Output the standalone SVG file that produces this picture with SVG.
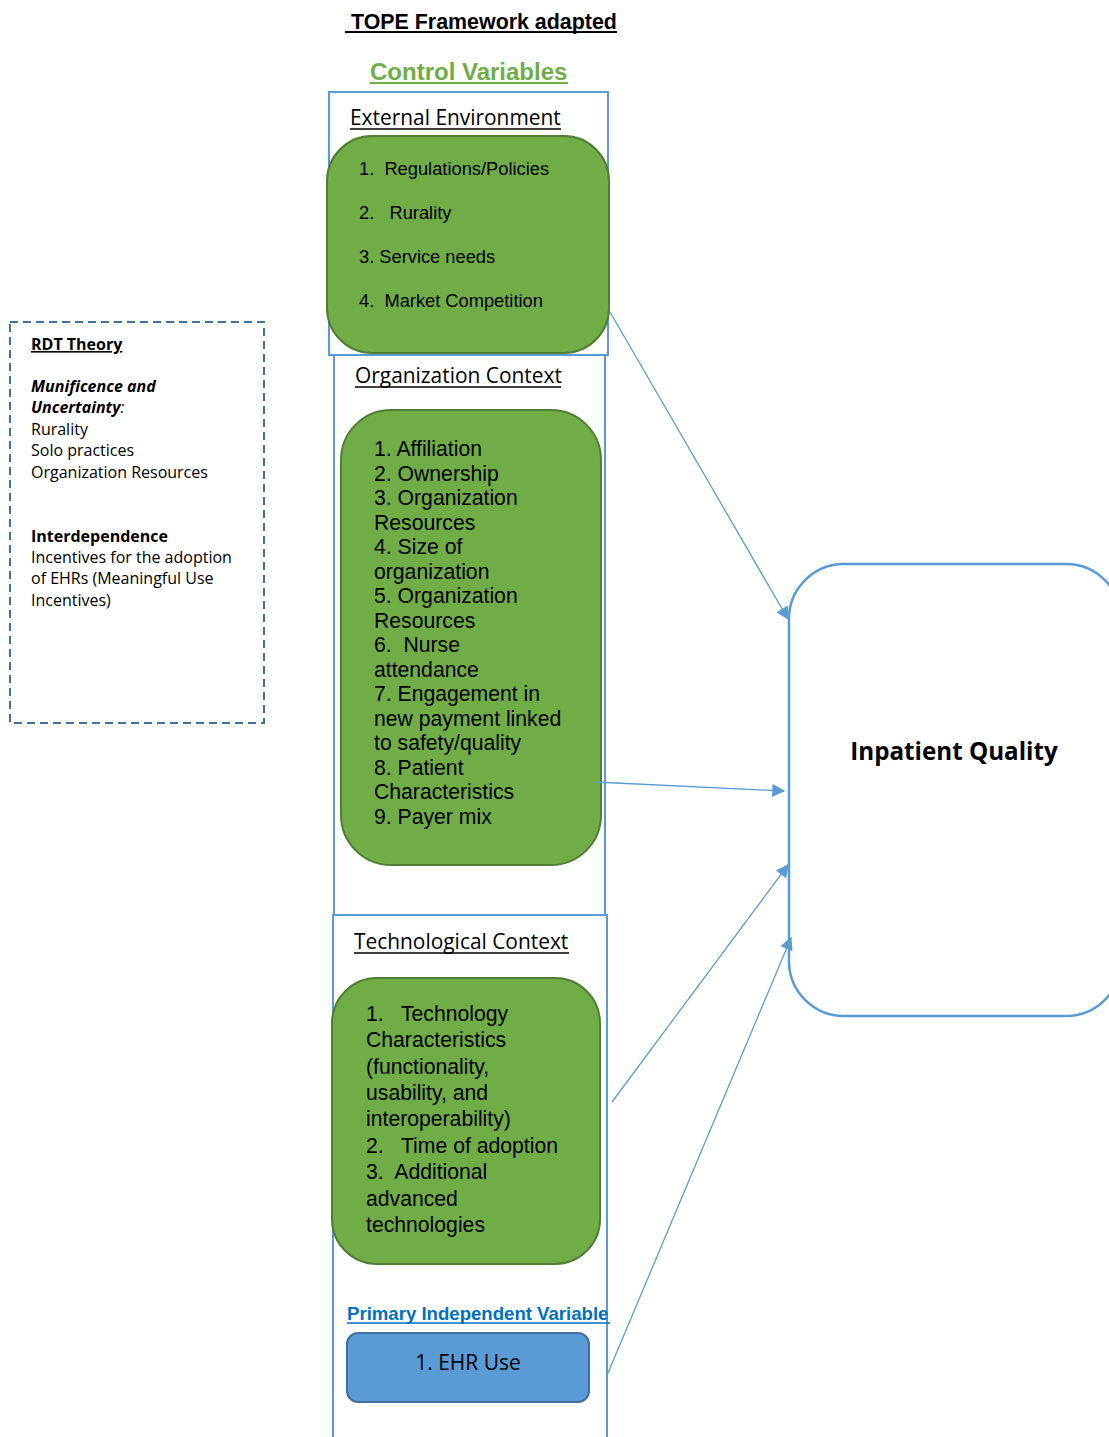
<svg xmlns="http://www.w3.org/2000/svg" width="1109" height="1437" viewBox="0 0 1109 1437">
<defs>
<style>
.frame{fill:#fff;stroke:#5B9BD5;stroke-width:2}
.green{fill:#70AD47;stroke:#507E32;stroke-width:2}
.ar{font-family:"Liberation Sans",Arial,sans-serif;fill:#000}
.cal{font-family:"Open Sans","Noto Sans",sans-serif;fill:#000}
.conn{stroke:#5B9BD5;stroke-width:1.3;fill:none;marker-end:url(#ah)}
</style>
<marker id="ah" viewBox="0 0 10 10" refX="9" refY="5" markerWidth="15" markerHeight="13" markerUnits="userSpaceOnUse" orient="auto">
<path d="M0,0 L10,5 L0,10 z" fill="#5B9BD5"/>
</marker>
</defs>
<rect width="1109" height="1437" fill="#fff"/>

<g id="title">
<text class="ar" x="351" y="29" font-size="21.4" font-weight="bold">TOPE Framework adapted</text>
<line x1="345" y1="32" x2="617" y2="32" stroke="#000" stroke-width="2"/>
<text x="370" y="80" font-family="Liberation Sans,Arial,sans-serif" font-size="24" font-weight="bold" fill="#70AD47">Control Variables</text>
<line x1="370" y1="83" x2="568" y2="83" stroke="#70AD47" stroke-width="2"/>
</g>

<g id="rdt">
<rect x="10" y="322" width="254" height="401" fill="none" stroke="#41719C" stroke-width="2" stroke-dasharray="8,5"/>
<g class="cal" font-size="16">
<text x="31" y="350" font-weight="bold" text-decoration="underline">RDT Theory</text>
<text x="31" y="392" font-weight="bold" font-style="italic">Munificence and</text>
<text x="31" y="413" font-style="italic"><tspan font-weight="bold">Uncertainty</tspan>:</text>
<text x="31" y="435">Rurality</text>
<text x="31" y="456">Solo practices</text>
<text x="31" y="478">Organization Resources</text>
<text x="31" y="542" font-weight="bold">Interdependence</text>
<text x="31" y="563">Incentives for the adoption</text>
<text x="31" y="584">of EHRs (Meaningful Use</text>
<text x="31" y="606">Incentives)</text>
</g>
</g>

<g id="tech-context">
<rect class="frame" x="333" y="915" width="274" height="540"/>
<text class="cal" x="354" y="949" font-size="20.9">Technological Context</text>
<line x1="354" y1="953" x2="569" y2="953" stroke="#000" stroke-width="1.5"/>
</g>
<g id="org-context">
<rect class="frame" x="334" y="355" width="271" height="560"/>
<text class="cal" x="355" y="383" font-size="20.9">Organization Context</text>
<line x1="355" y1="387" x2="561" y2="387" stroke="#000" stroke-width="1.5"/>
</g>
<g id="ext-env">
<rect class="frame" x="329" y="92" width="279" height="263"/>
<text class="cal" x="350" y="125" font-size="20.9">External Environment</text>
<line x1="350" y1="129" x2="561" y2="129" stroke="#000" stroke-width="1.5"/>
</g>

<g id="ext-list">
<rect class="green" x="327" y="136" width="282" height="217" rx="45"/>
<g class="ar" font-size="18.3">
<text x="359" y="175">1.&#160; Regulations/Policies</text>
<text x="359" y="219">2.&#160;&#160; Rurality</text>
<text x="359" y="263">3. Service needs</text>
<text x="359" y="307">4.&#160; Market Competition</text>
</g>
</g>

<g id="org-list">
<rect class="green" x="341" y="410" width="260" height="455" rx="50"/>
<g class="ar" font-size="21.2">
<text x="374" y="456">1. Affiliation</text>
<text x="374" y="481">2. Ownership</text>
<text x="374" y="505">3. Organization</text>
<text x="374" y="530">Resources</text>
<text x="374" y="554">4. Size of</text>
<text x="374" y="579">organization</text>
<text x="374" y="603">5. Organization</text>
<text x="374" y="628">Resources</text>
<text x="374" y="652">6.&#160; Nurse</text>
<text x="374" y="677">attendance</text>
<text x="374" y="701">7. Engagement in</text>
<text x="374" y="726">new payment linked</text>
<text x="374" y="750">to safety/quality</text>
<text x="374" y="775">8. Patient</text>
<text x="374" y="799">Characteristics</text>
<text x="374" y="824">9. Payer mix</text>
</g>
</g>

<g id="tech-list">
<rect class="green" x="332" y="978" width="268" height="286" rx="45"/>
<g class="ar" font-size="21.2">
<text x="366" y="1021">1.&#160;&#160; Technology</text>
<text x="366" y="1047">Characteristics</text>
<text x="366" y="1074">(functionality,</text>
<text x="366" y="1100">usability, and</text>
<text x="366" y="1126">interoperability)</text>
<text x="366" y="1153">2.&#160;&#160; Time of adoption</text>
<text x="366" y="1179">3.&#160; Additional</text>
<text x="366" y="1206">advanced</text>
<text x="366" y="1232">technologies</text>
</g>
</g>

<g id="primary">
<text x="347" y="1320" font-family="Liberation Sans,Arial,sans-serif" font-size="18.6" font-weight="bold" fill="#0070C0">Primary Independent Variable</text>
<line x1="347" y1="1323" x2="610" y2="1323" stroke="#0070C0" stroke-width="1.5"/>
</g>
<g id="ehr">
<rect x="347" y="1333" width="242" height="69" rx="11" fill="#5B9BD5" stroke="#41719C" stroke-width="2"/>
<text class="cal" x="468" y="1370" font-size="21" text-anchor="middle">1. EHR Use</text>
</g>

<g id="inpatient">
<rect x="789" y="564" width="332" height="452" rx="55" fill="#fff" stroke="#5B9BD5" stroke-width="2.5"/>
<text class="cal" x="954" y="760" font-size="24.2" font-weight="bold" text-anchor="middle">Inpatient Quality</text>
</g>

<g id="connectors">
<line class="conn" x1="610" y1="312" x2="788" y2="619"/>
<line class="conn" x1="595" y1="782" x2="784" y2="791"/>
<line class="conn" x1="612" y1="1102" x2="788" y2="865"/>
<line class="conn" x1="608" y1="1373" x2="791" y2="938"/>
</g>
</svg>
